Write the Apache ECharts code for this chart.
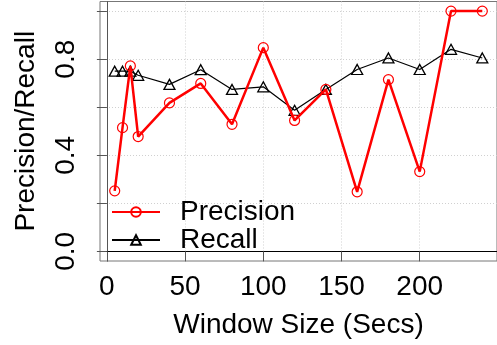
<!DOCTYPE html>
<html>
<head>
<meta charset="utf-8">
<script src="https://cdn.jsdelivr.net/npm/echarts@6/dist/echarts.min.js"></script>
<style>
  html, body { margin: 0; padding: 0; background: #fff; }
  #chart { width: 497px; height: 345px; }
</style>
</head>
<body>
<div id="chart"></div>
<script>
// window sizes (secs)
const windowSizes = [5, 10, 15, 20, 40, 60, 80, 100, 120, 140, 160, 180, 200, 220, 240]
const precision = [0.252, 0.515, 0.772, 0.478, 0.618, 0.699, 0.529, 0.848, 0.545, 0.674, 0.248, 0.715, 0.332, 1.0, 1.0]
const recall = [0.75, 0.75, 0.75, 0.733, 0.695, 0.756, 0.674, 0.685, 0.587, 0.674, 0.757, 0.805, 0.757, 0.841, 0.805]
const xTicks = [0, 50, 100, 150, 200]
const yTicks = [0, 0.2, 0.4, 0.6, 0.8, 1.0]
const yLabels = [0, 0.4, 0.8]

const font = 'Liberation Sans, Arial, sans-serif'
const chart = echarts.init(document.getElementById('chart'))

const toPairs = (ys) => windowSizes.map((x, i) => [x, ys[i]])
const gridLine = { show: true, lineStyle: { color: '#d0d0d0', type: [1, 2], width: 1 } }

const option = {
  animation: false,
  grid: {
    left: 100, top: 1.5, width: 400, height: 259.5,
    show: true, borderColor: '#777', borderWidth: 1
  },
  xAxis: {
    type: 'value',
    min: -4.4,
    max: 249.4,
    name: 'Window Size (Secs)',
    nameLocation: 'middle',
    nameGap: 50,
    nameTextStyle: { fontFamily: font, fontSize: 28, color: '#000' },
    axisLine: { lineStyle: { color: '#000', width: 1 } },
    axisTick: { show: true, length: 10, customValues: xTicks, lineStyle: { color: '#555' } },
    axisLabel: { customValues: xTicks, margin: 12, fontFamily: font, fontSize: 28, color: '#000' },
    splitLine: Object.assign({ customValues: xTicks }, gridLine)
  },
  yAxis: {
    type: 'value',
    min: -0.04,
    max: 1.04,
    name: 'Precision/Recall',
    nameLocation: 'middle',
    nameGap: 60,
    nameTextStyle: { fontFamily: font, fontSize: 28, color: '#000' },
    axisLine: { show: true, lineStyle: { color: '#555', width: 1 } },
    axisTick: { show: true, length: 10, customValues: yTicks, lineStyle: { color: '#555' } },
    axisLabel: {
      customValues: yLabels,
      rotate: 90,
      margin: 20,
      fontFamily: font,
      fontSize: 28,
      color: '#000',
      formatter: (v) => v.toFixed(1)
    },
    splitLine: Object.assign({ customValues: yTicks }, gridLine)
  },
  legend: {
    orient: 'vertical',
    left: 106,
    top: 193,
    itemWidth: 48,
    itemHeight: 12,
    itemGap: 0,
    textStyle: { fontFamily: font, fontSize: 28, color: '#000', lineHeight: 27, padding: [0, 0, 0, 15] },
    data: ['Precision', 'Recall']
  },
  series: [
    {
      name: 'Precision',
      type: 'line',
      data: toPairs(precision),
      symbol: 'circle',
      symbolSize: 10,
      itemStyle: { color: 'rgba(255,255,255,0)', borderColor: '#ff0000', borderWidth: 1.2 },
      lineStyle: { color: '#ff0000', width: 2.5 },
      z: 3
    },
    {
      name: 'Recall',
      type: 'line',
      data: toPairs(recall),
      symbol: 'triangle',
      symbolSize: [11, 10],
      itemStyle: { color: 'rgba(255,255,255,0)', borderColor: '#000', borderWidth: 1.3 },
      lineStyle: { color: '#000', width: 1.2 },
      z: 2
    }
  ]
}
chart.setOption(option)
</script>
</body>
</html>
